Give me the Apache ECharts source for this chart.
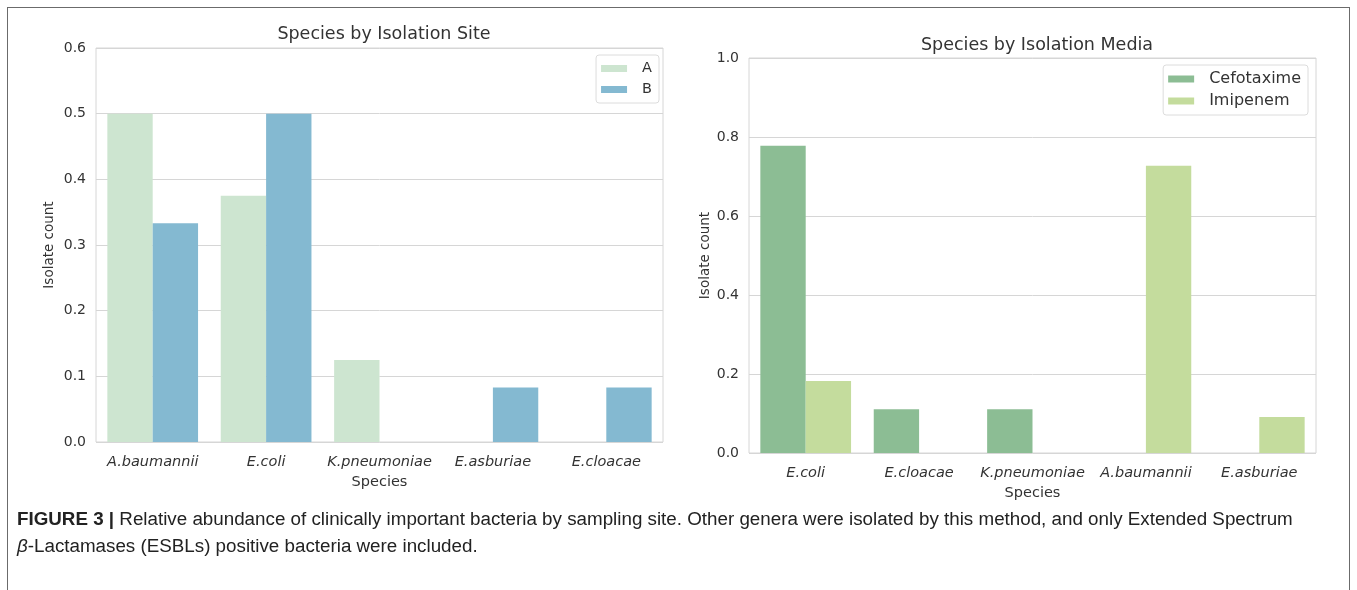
<!DOCTYPE html>
<html>
<head>
<meta charset="utf-8">
<script src="https://cdn.jsdelivr.net/npm/echarts@6/dist/echarts.min.js"></script>
<style>
  html, body { margin: 0; padding: 0; background: #fff; overflow: hidden; }
  #frame { position: absolute; left: 7px; top: 7px; width: 1343px; height: 600px; border: 1.5px solid #6b6b6b; box-sizing: border-box; }
  #chart { position: absolute; left: 0; top: 0; width: 1357px; height: 590px; }
  #caption { position: absolute; left: 17px; top: 505px; width: 1320px; font-family: 'Liberation Sans', Arial, sans-serif; font-size: 18.8px; line-height: 27px; color: #222; z-index: 2; }
  #caption b { font-weight: bold; }
</style>
</head>
<body>
<div id="frame"></div>
<div id="chart"></div>
<div id="caption"><b>FIGURE 3 |</b> Relative abundance of clinically important bacteria by sampling site. Other genera were isolated by this method, and only Extended Spectrum<br><i>β</i>-Lactamases (ESBLs) positive bacteria were included.</div>
<script>
// left panel: species by isolation site
var siteCats = ['A.baumannii', 'E.coli', 'K.pneumoniae', 'E.asburiae', 'E.cloacae'];
var siteA = [0.5, 0.375, 0.125, 0, 0];
var siteB = [0.333, 0.5, 0, 0.083, 0.083];
var siteTicks = [0, 0.6, 0.1];   // min, max, step

// right panel: species by isolation media
var mediaCats = ['E.coli', 'E.cloacae', 'K.pneumoniae', 'A.baumannii', 'E.asburiae'];
var cefotaxime = [0.778, 0.111, 0.111, 0, 0];
var imipenem = [0.182, 0, 0, 0.727, 0.091];
var mediaTicks = [0, 1.0, 0.2];

var txt = '#333';
var lineCol = '#d6d6d6';
var font = 'DejaVu Sans';

function xAx(idx, cats, margin, gap) {
    return {
        type: 'category',
        gridIndex: idx,
        data: cats,
        axisLine: { show: false },
        axisTick: { show: false },
        axisLabel: { color: txt, fontSize: 14.5, fontStyle: 'italic', fontFamily: font, margin: margin, interval: 0 },
        name: 'Species',
        nameLocation: 'middle',
        nameGap: gap,
        nameTextStyle: { color: txt, fontSize: 14.5, fontFamily: font }
    };
}

function yAx(idx, t, gap) {
    return {
        type: 'value',
        gridIndex: idx,
        min: t[0],
        max: t[1],
        interval: t[2],
        axisLine: { show: false },
        axisTick: { show: false },
        axisLabel: {
            color: txt, fontSize: 14, fontFamily: font, margin: 10,
            formatter: function (v) { return v.toFixed(1); }
        },
        splitLine: { lineStyle: { color: lineCol, width: 1 } },
        name: 'Isolate count',
        nameLocation: 'middle',
        nameGap: gap,
        nameTextStyle: { color: txt, fontSize: 13.5, fontFamily: font }
    };
}

function bar(name, data, color, idx) {
    return {
        name: name,
        type: 'bar',
        xAxisIndex: idx,
        yAxisIndex: idx,
        data: data,
        barGap: '0%',
        barCategoryGap: '20%',
        itemStyle: { color: color },
        emphasis: { disabled: true }
    };
}

function legend(names, right, top, size) {
    return {
        data: names, orient: 'vertical', right: right, top: top,
        itemWidth: 26, itemHeight: 7, itemGap: 6, padding: [6, 7, 6, 5],
        borderColor: '#dcdcdc', borderWidth: 1, borderRadius: 3, icon: 'rect',
        textStyle: { color: txt, fontSize: size, fontFamily: font, padding: [0, 0, 0, 10] }
    };
}

var myChart = echarts.init(document.getElementById('chart'));
var option = {
    animation: false,
    title: [
        { text: 'Species by Isolation Site', left: 379, top: 20, textAlign: 'center',
          textStyle: { color: txt, fontSize: 17.5, fontWeight: 'normal', fontFamily: font } },
        { text: 'Species by Isolation Media', left: 1032, top: 31, textAlign: 'center',
          textStyle: { color: txt, fontSize: 17.5, fontWeight: 'normal', fontFamily: font } }
    ],
    grid: [
        { left: 96, top: 48, width: 567, height: 394, show: true, borderColor: lineCol, borderWidth: 1,
          containLabel: false, outerBoundsMode: 'none' },
        { left: 749, top: 58, width: 567, height: 395, show: true, borderColor: lineCol, borderWidth: 1,
          containLabel: false, outerBoundsMode: 'none' }
    ],
    legend: [
        legend(['A', 'B'], 1357 - 659, 55, 14.5),
        legend(['Cefotaxime', 'Imipenem'], 1357 - 1308, 65, 16)
    ],
    xAxis: [xAx(0, siteCats, 13, 31), xAx(1, mediaCats, 13, 32)],
    yAxis: [yAx(0, siteTicks, 40), yAx(1, mediaTicks, 37)],
    series: [
        bar('A', siteA, '#cde5d0', 0),
        bar('B', siteB, '#84b9d1', 0),
        bar('Cefotaxime', cefotaxime, '#8cbd94', 1),
        bar('Imipenem', imipenem, '#c4dc9d', 1)
    ]
};
myChart.setOption(option, true);
</script>
</body>
</html>
